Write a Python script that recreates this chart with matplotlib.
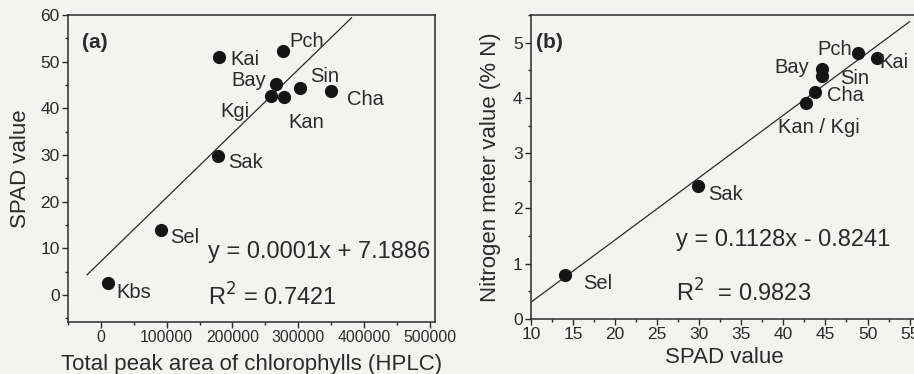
import numpy as np
import matplotlib.pyplot as plt
from matplotlib.ticker import MultipleLocator

plt.rcParams['font.family'] = ['Liberation Sans', 'DejaVu Sans']

# panel (a): HPLC chlorophyll area vs SPAD
names_a = ['Kbs', 'Sel', 'Sak', 'Kai', 'Pch', 'Bay', 'Kgi', 'Kan', 'Sin', 'Cha']
hplc_a = [11000, 91000, 178000, 180000, 277000, 267000, 259000, 278000, 302000, 350000]
spad_a = [2.6, 14.0, 29.7, 51.1, 52.3, 45.2, 42.6, 42.5, 44.4, 43.7]
fit_a = (0.000137, 7.19)          # line as drawn
fit_a_range = (-21000, 381000)

# panel (b): SPAD vs nitrogen meter
names_b = ['Sel', 'Sak', 'Kan / Kgi', 'Cha', 'Sin', 'Bay', 'Pch', 'Kai']
spad_b = [14.0, 29.9, 42.7, 43.8, 44.6, 44.6, 48.9, 51.1]
nitro_b = [0.79, 2.41, 3.90, 4.11, 4.40, 4.53, 4.82, 4.73]
fit_b = (0.1128, -0.8241)
fit_b_range = (10, 55)

# label offsets (pixels) and alignment
offs_a = {'Kbs': (8, -10, 'left'), 'Sel': (9, -8, 'left'), 'Sak': (10, -6, 'left'),
          'Kai': (11, -3, 'left'), 'Pch': (6, 9, 'left'), 'Bay': (-10, 4, 'right'),
          'Kgi': (-22, -15, 'right'), 'Kan': (5, -26, 'left'), 'Sin': (11, 11, 'left'),
          'Cha': (16, -8, 'left')}
offs_b = {'Sel': (18, -8, 'left'), 'Sak': (10, -9, 'left'), 'Kan / Kgi': (-28, -24, 'left'),
          'Cha': (12, -4, 'left'), 'Sin': (18, -3, 'left'), 'Bay': (-13, 1, 'right'),
          'Pch': (-6, 3, 'right'), 'Kai': (3, -5, 'left')}

ink = '#2b2b2b'
bg = '#f3f3f1'
W, H = 914, 374

fig = plt.figure(figsize=(9.14, 3.74), dpi=100, facecolor=bg)
ax1 = fig.add_axes([68 / W, (H - 322) / H, (435 - 68) / W, (322 - 15) / H])
ax2 = fig.add_axes([531 / W, (H - 319) / H, 387 / W, (319 - 15) / H])


def style(ax, xsize):
    ax.set_facecolor(bg)
    for s in ax.spines.values():
        s.set_color(ink)
        s.set_linewidth(1.1)
    ax.tick_params(which='both', direction='out', colors=ink, width=1)
    ax.tick_params(axis='y', labelsize=12.5)
    ax.tick_params(axis='x', labelsize=xsize)
    ax.tick_params(which='major', length=4, pad=2)
    ax.tick_params(which='minor', length=2.5)


def labels(ax, xs, ys, names, offs):
    for x, y, n in zip(xs, ys, names):
        dx, dy, ha = offs[n]
        ax.annotate(n, (x, y), xytext=(dx * 0.72, dy * 0.72), textcoords='offset points',
                    ha=ha, va='center', fontsize=14.5, color=ink)


# (a)
ax1.plot(hplc_a, spad_a, 'o', color='#151515', ms=8.5, zorder=3)
xx = np.array(fit_a_range)
ax1.plot(xx, fit_a[0] * xx + fit_a[1], color=ink, lw=0.9)
labels(ax1, hplc_a, spad_a, names_a, offs_a)
ax1.set_xlim(-50000, 508000)
ax1.set_ylim(-5.8, 60)
ax1.xaxis.set_major_locator(MultipleLocator(100000))
ax1.xaxis.set_minor_locator(MultipleLocator(50000))
ax1.yaxis.set_major_locator(MultipleLocator(10))
ax1.yaxis.set_minor_locator(MultipleLocator(5))
style(ax1, 11.3)
ax1.set_xlabel('Total peak area of chlorophylls (HPLC)', fontsize=16, color=ink)
ax1.set_ylabel('SPAD value', fontsize=16, color=ink)
ax1.xaxis.set_label_coords(0.5, -0.105)
ax1.yaxis.set_label_coords(-0.10, 0.5)
ax1.text(0.038, 0.91, '(a)', transform=ax1.transAxes, fontsize=15, color=ink,
         fontweight='bold', va='center')
ax1.text(0.381, 0.228, 'y = 0.0001x + 7.1886', transform=ax1.transAxes, fontsize=17,
         color=ink, va='center')
ax1.text(0.381, 0.081, 'R$^2$ = 0.7421', transform=ax1.transAxes, fontsize=17,
         color=ink, va='center')

# (b)
ax2.plot(spad_b, nitro_b, 'o', color='#151515', ms=8.5, zorder=3)
xx = np.array(fit_b_range)
ax2.plot(xx, fit_b[0] * xx + fit_b[1], color=ink, lw=0.9)
labels(ax2, spad_b, nitro_b, names_b, offs_b)
ax2.set_xlim(10, 56)
ax2.set_ylim(0, 5.5)
ax2.xaxis.set_major_locator(MultipleLocator(5))
ax2.xaxis.set_minor_locator(MultipleLocator(2.5))
ax2.yaxis.set_major_locator(MultipleLocator(1))
ax2.yaxis.set_minor_locator(MultipleLocator(0.5))
style(ax2, 12.5)
ax2.set_xlabel('SPAD value', fontsize=16, color=ink)
ax2.set_ylabel('Nitrogen meter value (% N)', fontsize=16, color=ink)
ax2.xaxis.set_label_coords(0.5, -0.092)
ax2.yaxis.set_label_coords(-0.078, 0.5)
ax2.text(0.012, 0.91, '(b)', transform=ax2.transAxes, fontsize=15, color=ink,
         fontweight='bold', va='center')
ax2.text(0.375, 0.26, 'y = 0.1128x - 0.8241', transform=ax2.transAxes, fontsize=17,
         color=ink, va='center')
ax2.text(0.375, 0.086, 'R$^{2}$  = 0.9823', transform=ax2.transAxes, fontsize=17,
         color=ink, va='center')

plt.savefig('out.png', dpi=100, facecolor=bg)
